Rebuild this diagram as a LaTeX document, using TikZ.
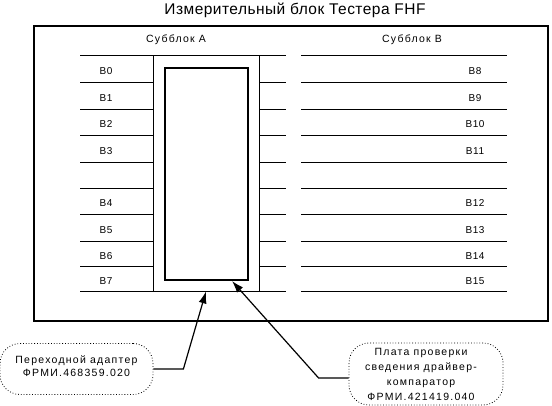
\documentclass[tikz,border=0pt]{standalone}
\usepackage{fontspec}
\setmainfont{Liberation Sans}
\newfontfamily\lblfont[LetterSpace=12]{Liberation Sans}
\newfontfamily\numfont[LetterSpace=6]{Liberation Sans}
\newfontfamily\ttlfont[LetterSpace=3]{Liberation Sans}
\usetikzlibrary{arrows.meta}
\begin{document}
\begin{tikzpicture}[x=1pt,y=-1pt,
  lbl/.style={font=\numfont\fontsize{10}{11}\selectfont, inner sep=0pt},
  sublbl/.style={font=\lblfont\fontsize{10.5}{11}\selectfont, inner sep=0pt},
  rowline/.style={line width=0.8pt},
  callout/.style={draw, dotted, line width=0.8pt, rounded corners=20pt, inner sep=0pt},
  callouttext/.style={align=center, inner sep=0pt},
  conn/.style={line width=1.2pt, -{Latex[length=12pt,width=8pt]}}]
\useasboundingbox (0,0) rectangle (552,406);
\node[font=\ttlfont\fontsize{15.5}{18}\selectfont, inner sep=0pt] (title) at (295,10) {Измерительный блок Тестера FHF};
\draw[line width=2pt] (34,26) rectangle (548,321);
\node[sublbl] (subA) at (176,40) {Субблок А};
\node[sublbl] (subB) at (412,40) {Субблок В};
\foreach \y in {55,82,109,135,162,188,214,241,266,291}{
  \draw[rowline] (80,\y) -- (153,\y);
  \draw[rowline] (259,\y) -- (286,\y);
  \draw[rowline] (301,\y) -- (507,\y);
}
\node[draw, line width=0.8pt, minimum width=106pt, minimum height=236pt, inner sep=0pt] (adapter) at (206,173) {};
\node[draw, line width=2pt, minimum width=83pt, minimum height=212pt, inner sep=0pt] (board) at (206.5,174) {};
\foreach \t/\y in {B0/71.5,B1/98,B2/124.5,B3/151,B4/203.5,B5/230,B6/256,B7/281}{
  \node[lbl] (L\t) at (106,\y) {\t};
}
\foreach \t/\y in {B8/71.5,B9/98,B10/124.5,B11/151,B12/203.5,B13/230,B14/256,B15/281}{
  \node[lbl] (R\t) at (475,\y) {\t};
}
\node[callout, minimum width=153pt, minimum height=51pt] (lc) at (76.5,369) {};
\node[callouttext, font=\lblfont\fontsize{10.5}{13}\selectfont] (lct) at (76.5,366) {Переходной адаптер\\ФРМИ.468359.020};
\node[callout, minimum width=154pt, minimum height=62pt] (rc) at (426,374) {};
\node[callouttext, font=\lblfont\fontsize{10.5}{14.8}\selectfont] (rct) at (421,374.5) {Плата проверки\\сведения драйвер-\\компаратор\\ФРМИ.421419.040};
\coordinate (tip) at (232,281);
\draw[conn] (lc.east) -- ++(30,0) -- (adapter.south);
\draw[conn] ([yshift=-4pt]rc.west) -- ++(-30,0) -- (tip);
\end{tikzpicture}
\end{document}
